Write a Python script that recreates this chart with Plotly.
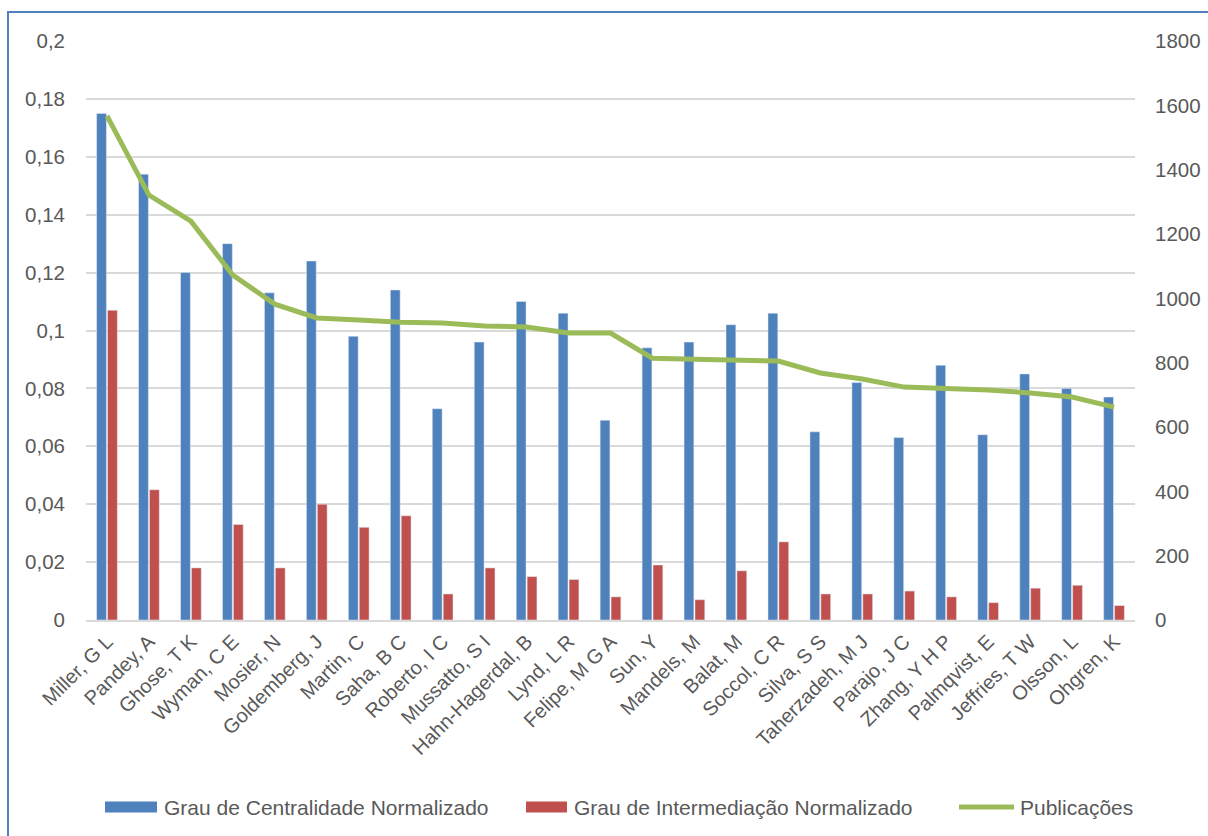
import plotly.graph_objects as go

autores = ["Miller, G L", "Pandey, A", "Ghose, T K", "Wyman, C E", "Mosier, N",
           "Goldemberg, J", "Martin, C", "Saha, B C", "Roberto, I C", "Mussatto, S I",
           "Hahn-Hagerdal, B", "Lynd, L R", "Felipe, M G A", "Sun, Y", "Mandels, M",
           "Balat, M", "Soccol, C R", "Silva, S S", "Taherzadeh, M J", "Parajo, J C",
           "Zhang, Y H P", "Palmqvist, E", "Jeffries, T W", "Olsson, L", "Ohgren, K"]

centralidade = [0.175, 0.154, 0.120, 0.130, 0.113, 0.124, 0.098, 0.114, 0.073, 0.096,
                0.110, 0.106, 0.069, 0.094, 0.096, 0.102, 0.106, 0.065, 0.082, 0.063,
                0.088, 0.064, 0.085, 0.080, 0.077]

intermediacao = [0.107, 0.045, 0.018, 0.033, 0.018, 0.040, 0.032, 0.036, 0.009, 0.018,
                 0.015, 0.014, 0.008, 0.019, 0.007, 0.017, 0.027, 0.009, 0.009, 0.010,
                 0.008, 0.006, 0.011, 0.012, 0.005]

publicacoes = [1567, 1321, 1240, 1072, 982, 939, 933, 926, 923, 914,
               911, 892, 892, 814, 811, 808, 805, 768, 749, 724,
               721, 715, 706, 693, 662]

ticks_esq = [0, 0.02, 0.04, 0.06, 0.08, 0.1, 0.12, 0.14, 0.16, 0.18, 0.2]
ticks_dir = [0, 200, 400, 600, 800, 1000, 1200, 1400, 1600, 1800]

FONTE = "Liberation Sans, Arial, sans-serif"
CINZA = "#595959"
AZUL, VERMELHO, VERDE = "#4F81BD", "#C0504D", "#9BBB59"

fig = go.Figure()
fig.add_trace(go.Bar(x=autores, y=centralidade, name="Grau de Centralidade Normalizado",
                     marker=dict(color=AZUL)))
fig.add_trace(go.Bar(x=autores, y=intermediacao, name="Grau de Intermediação Normalizado",
                     marker=dict(color=VERMELHO)))
fig.add_trace(go.Scatter(x=autores, y=publicacoes, name="Publicações", yaxis="y2",
                         mode="lines", line=dict(color=VERDE, width=5)))

ML, MR, MT, MB = 86, 73, 41, 216
W, H = 1208, 836
pw, ph = W - ML - MR, H - MT - MB


def px_x(px):
    return (px - ML) / pw


def px_y(py):
    return (H - MB - py) / ph


fig.update_layout(
    width=W, height=H,
    margin=dict(l=ML, r=MR, t=MT, b=MB, autoexpand=False),
    paper_bgcolor="white", plot_bgcolor="white",
    separators=",.",
    font=dict(family=FONTE, size=20, color=CINZA),
    barmode="group", bargap=0.48, bargroupgap=0.1,
    showlegend=False,
    xaxis=dict(tickangle=-45, tickfont=dict(size=20, color=CINZA), showgrid=False,
               showline=True, linecolor="#D9D9D9", linewidth=2, ticks="",
               automargin=False),
    yaxis=dict(range=[0, 0.2], tickvals=ticks_esq, showgrid=True, gridcolor="#D9D9D9",
               gridwidth=1.5, zeroline=False, tickfont=dict(size=20.5, color=CINZA),
               ticklabelstandoff=20, automargin=False),
    yaxis2=dict(range=[0, 1800], tickvals=ticks_dir, overlaying="y", side="right",
                showgrid=False, zeroline=False, tickfont=dict(size=20.5, color=CINZA),
                ticklabelstandoff=19, automargin=False),
)

# moldura azul do gráfico
fig.add_shape(type="rect", xref="paper", yref="paper",
              x0=px_x(8), x1=px_x(W + 4), y0=px_y(H + 4), y1=px_y(12),
              line=dict(color=AZUL, width=2), fillcolor="rgba(0,0,0,0)", layer="below")

# legenda desenhada à parte, com amostras largas
legenda = [
    ("Grau de Centralidade Normalizado", AZUL, "bar", 105, 157, 162),
    ("Grau de Intermediação Normalizado", VERMELHO, "bar", 526, 567, 572),
    ("Publicações", VERDE, "line", 959, 1014, 1018),
]
y_leg = 807
for texto, cor, tipo, xa, xb, xt in legenda:
    if tipo == "bar":
        fig.add_shape(type="rect", xref="paper", yref="paper",
                      x0=px_x(xa), x1=px_x(xb), y0=px_y(y_leg + 5.5), y1=px_y(y_leg - 5.5),
                      line=dict(width=0), fillcolor=cor)
    else:
        fig.add_shape(type="line", xref="paper", yref="paper",
                      x0=px_x(xa), x1=px_x(xb), y0=px_y(y_leg), y1=px_y(y_leg),
                      line=dict(color=cor, width=5))
    fig.add_annotation(text=texto, xref="paper", yref="paper", x=px_x(xt), y=px_y(y_leg),
                       xanchor="left", yanchor="middle", showarrow=False,
                       font=dict(size=21, color=CINZA, family=FONTE))

fig.write_html("out.html")
